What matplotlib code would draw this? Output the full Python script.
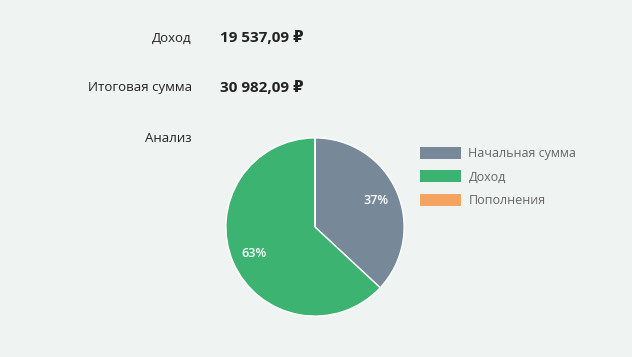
import matplotlib
matplotlib.use("Agg")
import matplotlib.pyplot as plt
from matplotlib.patches import Patch

plt.rcParams['font.family'] = ['Open Sans', 'DejaVu Sans']

categories = ["Начальная сумма", "Доход", "Пополнения"]
values = [11445.00, 19537.09, 0.0]
colors = ["#778899", "#3cb371", "#f4a460"]
row_labels = ["Доход", "Итоговая сумма"]
row_values = ["19 537,09 ₽", "30 982,09 ₽"]
section_label = "Анализ"

W, H = 632, 357
bg = "#eff3f2"
fig = plt.figure(figsize=(W / 100, H / 100), dpi=100, facecolor=bg)

def fx(px):
    return px / W

def fy(py):
    return 1 - py / H

row_y = [38, 88]
for lab, val, y in zip(row_labels, row_values, row_y):
    fig.text(fx(192), fy(y), lab, ha='right', va='center', fontsize=9.5, color='#222222')
    fig.text(fx(220), fy(y), val, ha='left', va='center', fontsize=11, color='#222222', fontweight='bold')
fig.text(fx(192), fy(139), section_label, ha='right', va='center', fontsize=9.5, color='#222222')

cx, cy, r = 315, 227, 90
ax = fig.add_axes([fx(cx - r), fy(cy + r), 2 * r / W, 2 * r / H])
ax.set_facecolor(bg)

def pct(p):
    return f"{p:.0f}%" if p > 0.5 else ""

wedges, texts, autotexts = ax.pie(values, colors=colors, startangle=90, counterclock=False,
                                  autopct=pct, pctdistance=0.75,
                                  wedgeprops=dict(edgecolor='white', linewidth=1),
                                  textprops=dict(color='white', fontsize=9, fontweight='semibold'))
ax.set_xlim(-1.01, 1.01)
ax.set_ylim(-1.01, 1.01)
ax.set_aspect('equal')
ax.axis('off')

handles = [Patch(facecolor=c, edgecolor='none') for c in colors]
leg = fig.legend(handles, categories, loc='upper left', bbox_to_anchor=(fx(416), fy(143)),
                 frameon=False, fontsize=9, handlelength=3.3, handleheight=1.1,
                 labelspacing=0.82, handletextpad=0.6, borderaxespad=0, borderpad=0.3)
for t in leg.get_texts():
    t.set_color('#666666')

fig.savefig("out.png", dpi=100, facecolor=bg)
